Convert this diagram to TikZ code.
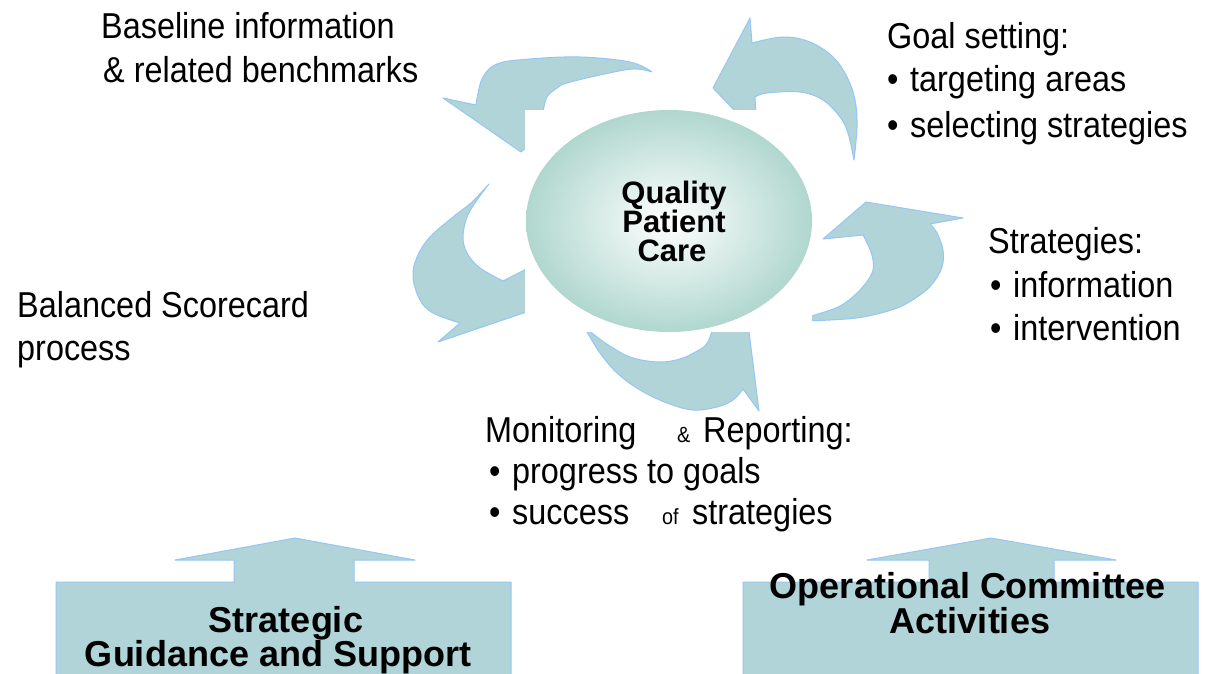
\documentclass[tikz,border=0pt]{standalone}
\usepackage{fontspec}
\setmainfont{Liberation Sans}
\newfontfamily\narrowfont[FakeStretch=0.9]{Liberation Sans}
\newfontfamily\boldfont{Liberation Sans Bold}
\definecolor{arrfill}{RGB}{176,212,216}
\definecolor{arrline}{RGB}{150,198,245}
\definecolor{ellout}{RGB}{176,215,206}
\tikzset{
  carrow/.style={fill=arrfill, draw=arrline, line width=1pt, line join=round},
  lbl/.style={anchor=base west, inner sep=0pt, font=\narrowfont\fontsize{36}{42}\selectfont},
  smalllbl/.style={anchor=base west, inner sep=0pt, font=\narrowfont\fontsize{22}{26}\selectfont},
  centertxt/.style={anchor=base, inner sep=0pt, font=\boldfont\fontsize{31}{31}\selectfont},
  boxtxt/.style={anchor=base, inner sep=0pt, font=\boldfont\fontsize{36}{36}\selectfont},
}
\newcommand{\bul}{\makebox[23pt][l]{\textbullet}}
\begin{document}
\begin{tikzpicture}[x=1pt,y=-1pt]
\useasboundingbox (0,0) rectangle (1220,674);
\fill[white] (0,0) rectangle (1220,674);

% curved arrow A (top left)
\path[carrow] (652,72) -- plot[smooth, tension=0.6] coordinates {(652,72) (630,62) (580,57) (530,59) (497,64) (482,79) (476,105)}
  -- (443,98) -- (521,152) -- (560,118) -- (543,112)
  -- plot[smooth, tension=0.6] coordinates {(543,112) (547,97) (557,88) (567,83) (600,75) (633,69) (652,72)} -- cycle;
% curved arrow B (top right)
\path[carrow] (854,160) -- plot[smooth, tension=0.6] coordinates {(854,160) (857,127) (855,100) (847,77) (833,57) (810,42) (783,37) (752,43)}
  -- (750,18) -- (713,88) -- (757,134) -- (755,97)
  -- plot[smooth, tension=0.6] coordinates {(755,97) (767,93) (800,92) (823,100) (840,117) (848,133) (854,160)} -- cycle;
% curved arrow C (right)
\path[carrow] (800,321) -- plot[smooth, tension=0.6] coordinates {(800,321) (830,320) (863,317) (897,308) (920,295) (933,283) (942,267) (943,250) (937,233) (930,224)}
  -- (963,218) -- (866,202) -- (823,239) -- (863,235)
  -- plot[smooth, tension=0.6] coordinates {(863,235) (869,247) (873,260) (872,273) (860,290) (840,306) (812,316) (800,321)} -- cycle;
% curved arrow D (bottom)
\path[carrow] (580,320) -- plot[smooth, tension=0.6] coordinates {(580,320) (587,332) (600,353) (617,373) (640,390) (667,403) (693,410) (717,407) (733,400) (743,389)}
  -- (759,411) -- (740,260) -- (708,342) -- (704,347)
  -- plot[smooth, tension=0.6] coordinates {(704,347) (683,358) (660,362) (633,358) (613,348) (592,333) (580,320)} -- cycle;
% curved arrow E (left)
\path[carrow] (489,184) -- plot[smooth, tension=0.6] coordinates {(489,184) (472,202) (453,217) (430,237) (417,257) (413,277) (420,300) (433,313) (460,323)}
  -- (438,342) -- (550,304) -- (540,262) -- (503,281)
  -- plot[smooth, tension=0.6] coordinates {(503,281) (480,268) (467,253) (463,237) (467,217) (477,200) (489,184)} -- cycle;

% white backing of the centre
\fill[white] (525,110) rectangle (812,332);
% centre ellipse
\shade[inner color=white, outer color=ellout] (669,221) ellipse [x radius=143, y radius=111];
\node[centertxt] (q1) at (674,203) {Quality};
\node[centertxt] (q2) at (674,232) {Patient};
\node[centertxt] (q3) at (672,261) {Care};

% labels
\node[lbl] (b1) at (101,39) {Baseline information};
\node[lbl] (b2) at (103,83) {\& related benchmarks};

\node[lbl] (g1) at (887,49) {Goal setting:};
\node[lbl] (g2) at (887,92) {\bul targeting areas};
\node[lbl] (g3) at (887,137) {\bul selecting strategies};

\node[lbl] (s1) at (988,253) {Strategies:};
\node[lbl] (s2) at (990,297) {\bul information};
\node[lbl] (s3) at (990,340) {\bul intervention};

\node[lbl] (bs1) at (17,317) {Balanced Scorecard};
\node[lbl] (bs2) at (17,360) {process};

\node[lbl] (m1) at (485,442) {Monitoring};
\node[smalllbl] (m1a) at (677,442) {\&};
\node[lbl] (m1b) at (703,442) {Reporting:};
\node[lbl] (m2) at (489,483) {\bul progress to goals};
\node[lbl] (m3) at (489,524) {\bul success};
\node[smalllbl] (m3a) at (662,524) {of};
\node[lbl] (m3b) at (692,524) {strategies};

% bottom block arrows
\path[carrow] (56,582) -- (234,582) -- (234,560) -- (175,560) -- (295,538) -- (415,560) -- (354,560) -- (354,582) -- (511,582) -- (511,676) -- (56,676) -- cycle;
\path[carrow] (743,582) -- (929,582) -- (929,560) -- (867,560) -- (991,538) -- (1116,560) -- (1054,560) -- (1054,582) -- (1198,582) -- (1198,676) -- (743,676) -- cycle;

\node[boxtxt] (st1) at (286,632) {Strategic};
\node[boxtxt] (st2) at (278,666) {Guidance and Support};
\node[boxtxt] (op1) at (968,598) {Operational Committee};
\node[boxtxt] (op2) at (970,633) {Activities};
\end{tikzpicture}
\end{document}
